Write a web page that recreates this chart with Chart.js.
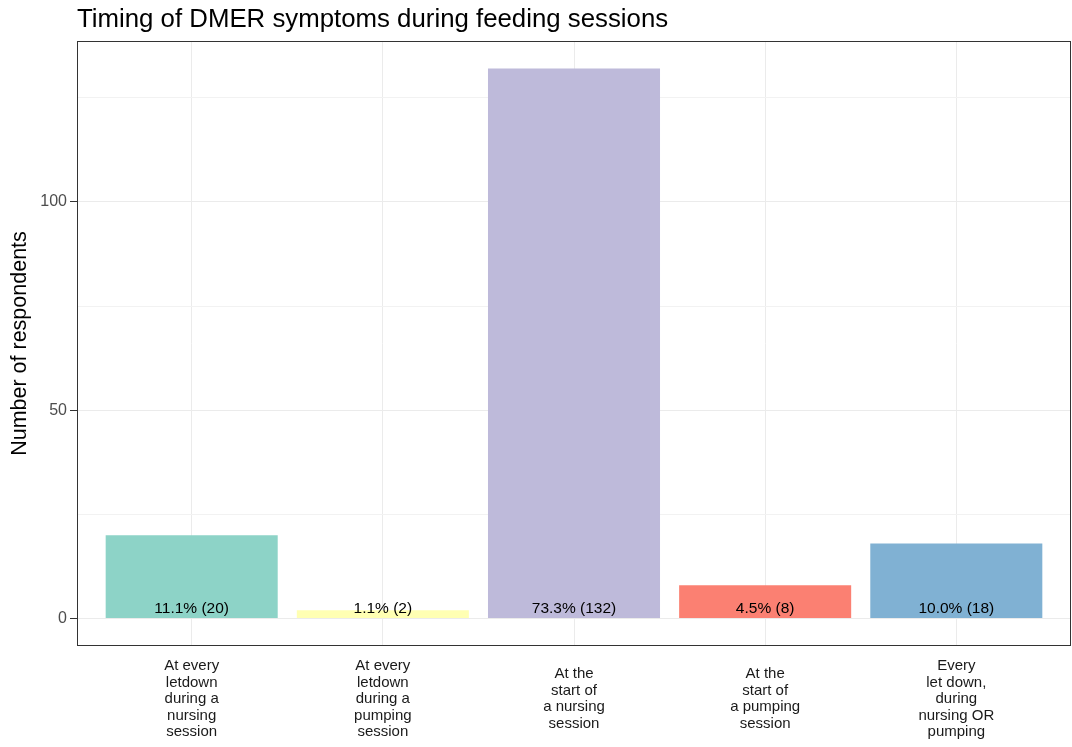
<!DOCTYPE html>
<html>
<head>
<meta charset="utf-8">
<script src="https://cdn.jsdelivr.net/npm/chart.js@4"></script>
<style>
	html, body { margin: 0; padding: 0; background: #fff; }
	#wrap { width: 1072px; height: 747px; }
</style>
</head>
<body>
<div id="wrap"><canvas id="chart"></canvas></div>
<script>
const chartTitle = "Timing of DMER symptoms during feeding sessions";
const yTitle = "Number of respondents";
const categories = [
	["At every", "letdown", "during a", "nursing", "session"],
	["At every", "letdown", "during a", "pumping", "session"],
	["At the", "start of", "a nursing", "session"],
	["At the", "start of", "a pumping", "session"],
	["Every", "let down,", "during", "nursing OR", "pumping"],
];
const counts = [20, 2, 132, 8, 18];
const percents = ["11.1%", "1.1%", "73.3%", "4.5%", "10.0%"];
const barColors = ["#8DD3C7", "#FFFFB3", "#BEBADA", "#FB8072", "#80B1D3"];
const yTicks = [0, 25, 50, 75, 100, 125];
const yLabelled = [0, 50, 100];

const FONT = "'Liberation Sans', Arial, sans-serif";

// title + panel box, drawn like ggplot's theme_bw
const panelPlugin = {
	id: "panel",
	afterDatasetsDraw(chart) {
		const { ctx, chartArea: a } = chart;
		ctx.save();
		ctx.strokeStyle = "#333333";
		ctx.lineWidth = 1;
		ctx.strokeRect(a.left + 0.5, a.top + 0.5, a.right - a.left - 1, a.bottom - a.top - 1);
		ctx.restore();
	},
	afterDraw(chart) {
		const { ctx, chartArea: a } = chart;
		ctx.save();
		ctx.fillStyle = "#000";
		ctx.font = "25.8px " + FONT;
		ctx.textAlign = "left";
		ctx.textBaseline = "alphabetic";
		ctx.fillText(chartTitle, a.left, 27);
		ctx.restore();
	},
};

// "11.1% (20)" text sitting just above zero
const barLabelPlugin = {
	id: "barLabels",
	afterDatasetsDraw(chart) {
		const { ctx, scales } = chart;
		const y0 = scales.y.getPixelForValue(0);
		ctx.save();
		ctx.fillStyle = "#000";
		ctx.font = "15.5px " + FONT;
		ctx.textAlign = "center";
		ctx.textBaseline = "alphabetic";
		counts.forEach((c, i) => {
			const x = scales.x.getPixelForValue(i);
			ctx.fillText(`${percents[i]} (${c})`, x, y0 - 6);
		});
		ctx.restore();
	},
};

new Chart(document.getElementById("chart"), {
	type: "bar",
	data: {
		datasets: [
			{
				data: counts.map((c, i) => ({ x: i, y: c })),
				backgroundColor: barColors,
				borderWidth: 0,
				barPercentage: 0.9,
				categoryPercentage: 1,
			},
		],
	},
	options: {
		responsive: true,
		maintainAspectRatio: false,
		animation: false,
		layout: { padding: { top: 41, right: 1, left: 0, bottom: 0 } },
		plugins: {
			legend: { display: false },
			tooltip: { enabled: false },
		},
		scales: {
			x: {
				type: "linear",
				offset: false,
				min: -0.6,
				max: categories.length - 1 + 0.6,
				afterBuildTicks: (s) => {
					s.ticks = categories.map((_, i) => ({ value: i }));
				},
				afterFit: (s) => {
					s.height = 101;
				},
				border: { display: false },
				grid: { offset: false, color: "#EBEBEB", lineWidth: 1, drawTicks: false },
				ticks: {
					autoSkip: false,
					maxRotation: 0,
					padding: 20,
					crossAlign: "center",
					color: "#1A1A1A",
					font: { family: FONT, size: 15, lineHeight: 1.1 },
					callback: (v) => categories[v] || "",
				},
			},
			y: {
				min: -6.6,
				max: 138.6,
				afterBuildTicks: (s) => {
					s.ticks = yTicks.map((v) => ({ value: v }));
				},
				afterFit: (s) => {
					s.width = 77;
				},
				border: { display: false },
				grid: {
					color: (c) => (yLabelled.includes(c.tick.value) ? "#EBEBEB" : "#F2F2F2"),
					tickColor: (c) => (yLabelled.includes(c.tick.value) ? "#333333" : "rgba(0,0,0,0)"),
					tickLength: 7,
					lineWidth: 1,
				},
				ticks: {
					padding: 3,
					color: "#4D4D4D",
					font: { family: FONT, size: 16 },
					callback: (v) => (yLabelled.includes(v) ? String(v) : ""),
				},
				title: {
					display: true,
					text: yTitle,
					color: "#000",
					font: { family: FONT, size: 21.5 },
					padding: { top: 7, bottom: 0 },
				},
			},
		},
	},
	plugins: [panelPlugin, barLabelPlugin],
});
</script>
</body>
</html>
